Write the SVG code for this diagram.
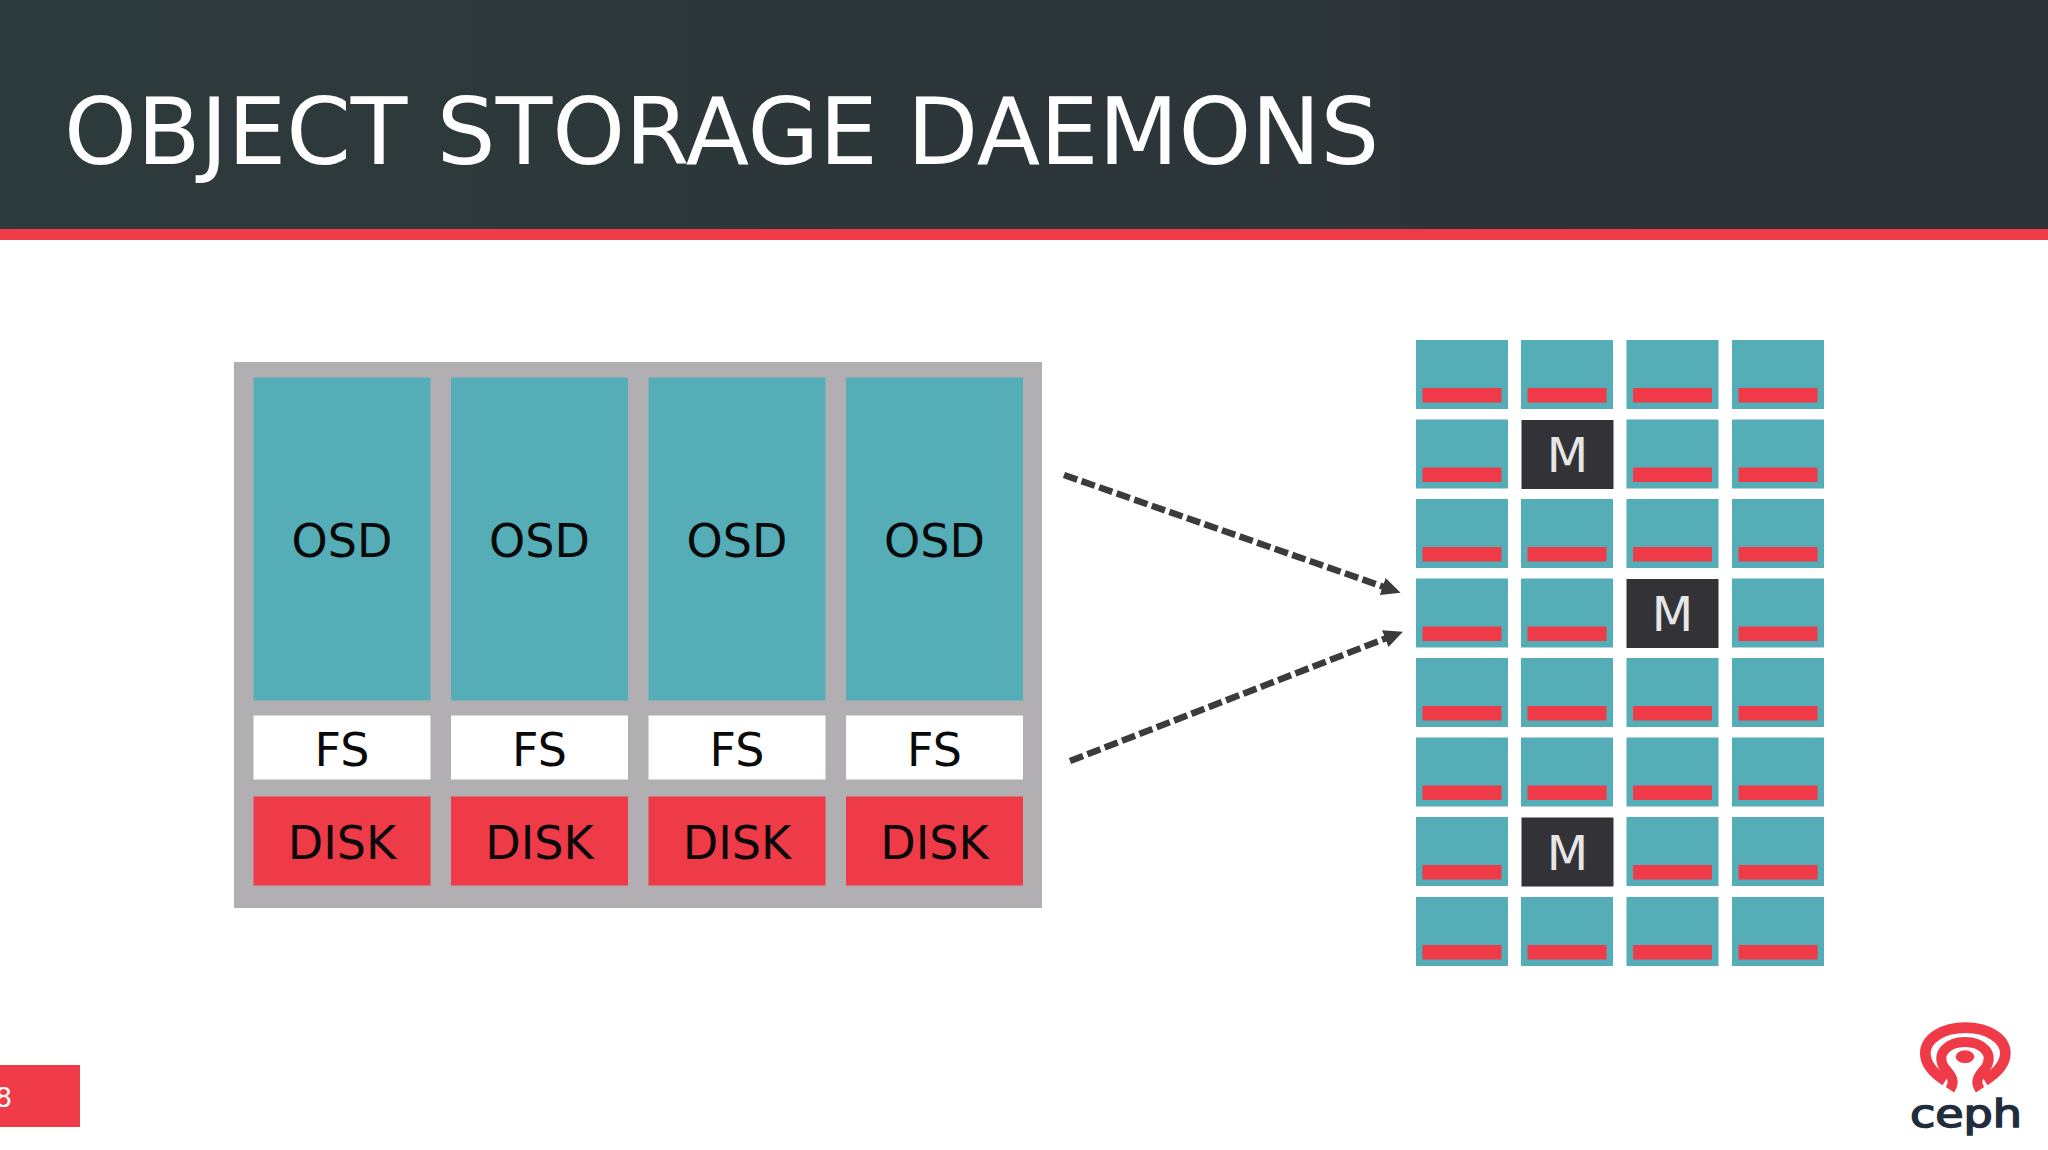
<svg xmlns="http://www.w3.org/2000/svg" width="2048" height="1150" viewBox="0 0 2048 1150">
<defs>
<linearGradient id="banner" x1="0" y1="0" x2="1" y2="0"><stop offset="0" stop-color="#2d3a3c"/><stop offset="1" stop-color="#2c3237"/></linearGradient>
<marker id="head" markerUnits="userSpaceOnUse" markerWidth="24" markerHeight="24" refX="3" refY="10" orient="auto"><path d="M0 1L19 10L0 19Z" fill="#3c3a3d"/></marker>
<g id="node"><rect width="92" height="69" fill="#55adb8"/><rect x="6.500" y="48" width="79" height="14.500" fill="#ef3b47"/></g>
<g id="mon"><rect width="92" height="69" fill="#333337"/><text x="46" y="52" class="m">M</text></g>
</defs>
<style>
text{font-family:"DejaVu Sans",sans-serif}
.osd{fill:#55adb8}.fs{fill:#fff}.disk{fill:#ef3b47}
.l{font-size:46px;text-anchor:middle;fill:#0a0a0a}
.m{font-size:48px;text-anchor:middle;fill:#e6e6e6}
.a{fill:none;stroke:#3c3a3d;stroke-width:6.500;stroke-dasharray:14 4.600}
</style>
<rect width="2048" height="1150" fill="#fff"/>
<g id="header"><rect width="2048" height="229" fill="url(#banner)"/><rect y="229" width="2048" height="11" fill="#ef3b47"/>
<text x="64" y="163.500" font-size="92.600" fill="#fff">OBJECT STORAGE DAEMONS</text></g>
<g id="host"><rect x="234" y="362" width="808" height="546" fill="#b1afb1"/></g>
<g id="col1"><rect class="osd" x="253.500" y="377.500" width="177" height="323"/><text class="l" x="342" y="557">OSD</text><rect class="fs" x="253.500" y="715.500" width="177" height="64"/><text class="l" x="342" y="766">FS</text><rect class="disk" x="253.500" y="796.500" width="177" height="89"/><text class="l" x="342" y="859">DISK</text></g>
<g id="col2"><rect class="osd" x="451" y="377.500" width="177" height="323"/><text class="l" x="539.500" y="557">OSD</text><rect class="fs" x="451" y="715.500" width="177" height="64"/><text class="l" x="539.500" y="766">FS</text><rect class="disk" x="451" y="796.500" width="177" height="89"/><text class="l" x="539.500" y="859">DISK</text></g>
<g id="col3"><rect class="osd" x="648.500" y="377.500" width="177" height="323"/><text class="l" x="737" y="557">OSD</text><rect class="fs" x="648.500" y="715.500" width="177" height="64"/><text class="l" x="737" y="766">FS</text><rect class="disk" x="648.500" y="796.500" width="177" height="89"/><text class="l" x="737" y="859">DISK</text></g>
<g id="col4"><rect class="osd" x="846" y="377.500" width="177" height="323"/><text class="l" x="934.500" y="557">OSD</text><rect class="fs" x="846" y="715.500" width="177" height="64"/><text class="l" x="934.500" y="766">FS</text><rect class="disk" x="846" y="796.500" width="177" height="89"/><text class="l" x="934.500" y="859">DISK</text></g>
<g id="connectors">
<path class="a" d="M1064 475L1385.500 587.500" marker-end="url(#head)"/>
<path class="a" d="M1070 761L1388 637.500" marker-end="url(#head)"/>
</g>
<g id="cluster">
<use href="#node" x="1416" y="340"/><use href="#node" x="1521" y="340"/><use href="#node" x="1626.500" y="340"/><use href="#node" x="1732" y="340"/>
<use href="#node" x="1416" y="419.500"/><use href="#mon" x="1521.500" y="420"/><use href="#node" x="1626.500" y="419.500"/><use href="#node" x="1732" y="419.500"/>
<use href="#node" x="1416" y="499"/><use href="#node" x="1521" y="499"/><use href="#node" x="1626.500" y="499"/><use href="#node" x="1732" y="499"/>
<use href="#node" x="1416" y="578.500"/><use href="#node" x="1521" y="578.500"/><use href="#mon" x="1626.500" y="579"/><use href="#node" x="1732" y="578.500"/>
<use href="#node" x="1416" y="658"/><use href="#node" x="1521" y="658"/><use href="#node" x="1626.500" y="658"/><use href="#node" x="1732" y="658"/>
<use href="#node" x="1416" y="737.500"/><use href="#node" x="1521" y="737.500"/><use href="#node" x="1626.500" y="737.500"/><use href="#node" x="1732" y="737.500"/>
<use href="#node" x="1416" y="817"/><use href="#mon" x="1521.500" y="817.500"/><use href="#node" x="1626.500" y="817"/><use href="#node" x="1732" y="817"/>
<use href="#node" x="1416" y="897"/><use href="#node" x="1521" y="897"/><use href="#node" x="1626.500" y="897"/><use href="#node" x="1732" y="897"/>
</g>
<g id="page"><rect y="1065" width="80" height="62" fill="#ef3b47"/><text x="-5" y="1107" font-size="27" fill="#fff">8</text></g>
<g id="logo">
<g transform="translate(1910 1015) scale(.3333)" fill="none" stroke="#ef3b47">
<path stroke-width="32" d="M106 197C63 170 46 140 46 115C46 70 100 38 166 38C232 38 286 70 286 115C286 140 267 170 224 197"/>
<path stroke-width="30" d="M120 224C137 198 125 182 102 157C78 118 110 81 165 81C220 81 252 118 228 157C205 182 193 198 210 224"/>
<ellipse cx="165" cy="125" rx="28" ry="19" fill="#ef3b47" stroke="none"/>
</g>
<text x="1910" y="1127" font-size="37" stroke="#1f2d3d" stroke-width="1.500" fill="#1f2d3d" textLength="112" lengthAdjust="spacingAndGlyphs">ceph</text>
</g>
</svg>
